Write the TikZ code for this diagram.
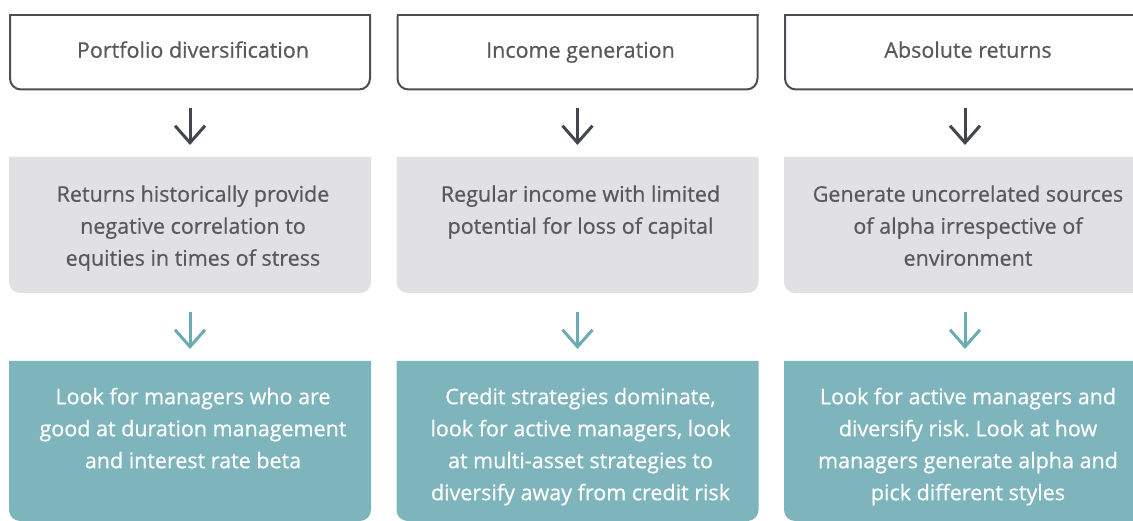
\documentclass[tikz,border=0pt]{standalone}
\usepackage{fontspec}
\setmainfont{Open Sans}[FakeBold=0.6]
\frenchspacing
\usetikzlibrary{arrows.meta,calc,backgrounds}
\definecolor{bordc}{HTML}{4B4E56}
\definecolor{txtc}{HTML}{58595B}
\definecolor{grayf}{HTML}{E1E1E3}
\definecolor{tealf}{HTML}{7EB5BC}
\definecolor{tealarr}{HTML}{6BABB3}
\definecolor{darkarr}{HTML}{43464E}
\begin{document}
\begin{tikzpicture}[x=1pt,y=-1pt,
  boxshape/.style={anchor=north west, inner sep=0pt, outer sep=0pt, minimum width=362pt},
  topbox/.style={boxshape, minimum height=74pt},
  graybox/.style={boxshape, minimum height=136pt},
  tealbox/.style={boxshape, minimum height=160pt},
  lbl/.style={anchor=north, inner sep=0pt, align=center, font=\fontsize{21.5}{32}\selectfont},
  darklbl/.style={lbl, text=txtc},
  whitelbl/.style={lbl, text=white},
  darkconn/.style={draw=darkarr, line width=3pt, -{Straight Barb[length=17pt,width=30pt]}},
  tealconn/.style={draw=tealarr, line width=3pt, -{Straight Barb[length=17pt,width=30pt]}},
  outline/.style={draw=bordc, line width=2pt, rounded corners=11pt},
  sqline/.style={draw=bordc, line width=2pt, line cap=rect}]
\useasboundingbox (0,0) rectangle (1133,521);
\clip (0,0) rectangle (1133,521);

% box nodes
\foreach \i/\x in {1/9,2/396.5,3/784}{
  \node[topbox]  (t\i) at (\x,15.5) {};
  \node[graybox] (g\i) at (\x,157) {};
  \node[tealbox] (b\i) at (\x,361) {};
}

% shapes
\foreach \i in {1,2,3}{
  \fill[grayf, rounded corners=11pt] (g\i.north west) -- (g\i.south west) -- (g\i.south east) -- (g\i.north east);
  \fill[tealf, rounded corners=11pt] (b\i.north west) -- (b\i.south west) -- (b\i.south east) -- (b\i.north east);
  \path[outline] ($(t\i.north west)+(1,0)$) -- ($(t\i.south west)+(1,0)$) -- ($(t\i.south east)+(-1,0)$) -- ($(t\i.north east)+(-1,0)$);
  \path[sqline] ($(t\i.north west)+(1,0)$) -- ($(t\i.north east)+(-1,0)$);
}

% labels
\node[darklbl] (t1l) at ($(t1.north)+(3,42-22.4)$) {\strut Portfolio diversification};
\node[darklbl] (t2l) at ($(t2.north)+(3,42-22.4)$) {\strut Income generation};
\node[darklbl] (t3l) at ($(t3.north)+(3,42-22.4)$) {\strut Absolute returns};

\node[darklbl] (g1l) at ($(g1.north)+(3,44.5-22.4)$) {\strut Returns historically provide\\negative correlation to\\equities in times of stress};
\node[darklbl] (g2l) at ($(g2.north)+(3,44.5-22.4)$) {\strut Regular income with limited\\potential for loss of capital};
\node[darklbl] (g3l) at ($(g3.north)+(3,44.5-22.4)$) {\strut Generate uncorrelated sources\\of alpha irrespective of\\environment};

\node[whitelbl] (b1l) at ($(b1.north)+(3,43-22.4)$) {\strut Look for managers who are\\good at duration management\\and interest rate beta};
\node[whitelbl] (b2l) at ($(b2.north)+(3,43-22.4)$) {\strut Credit strategies dominate,\\look for active managers, look\\at multi-asset strategies to\\diversify away from credit risk};
\node[whitelbl] (b3l) at ($(b3.north)+(3,43-22.4)$) {\strut Look for active managers and\\diversify risk. Look at how\\managers generate alpha and\\pick different styles};

% connectors
\foreach \i in {1,2,3}{
  \draw[darkconn] ($(t\i.south)+(0,19)$) -- ($(g\i.north)+(0,-12)$);
  \draw[tealconn] ($(g\i.south)+(0,19)$) -- ($(b\i.north)+(0,-12)$);
}
\end{tikzpicture}
\end{document}
